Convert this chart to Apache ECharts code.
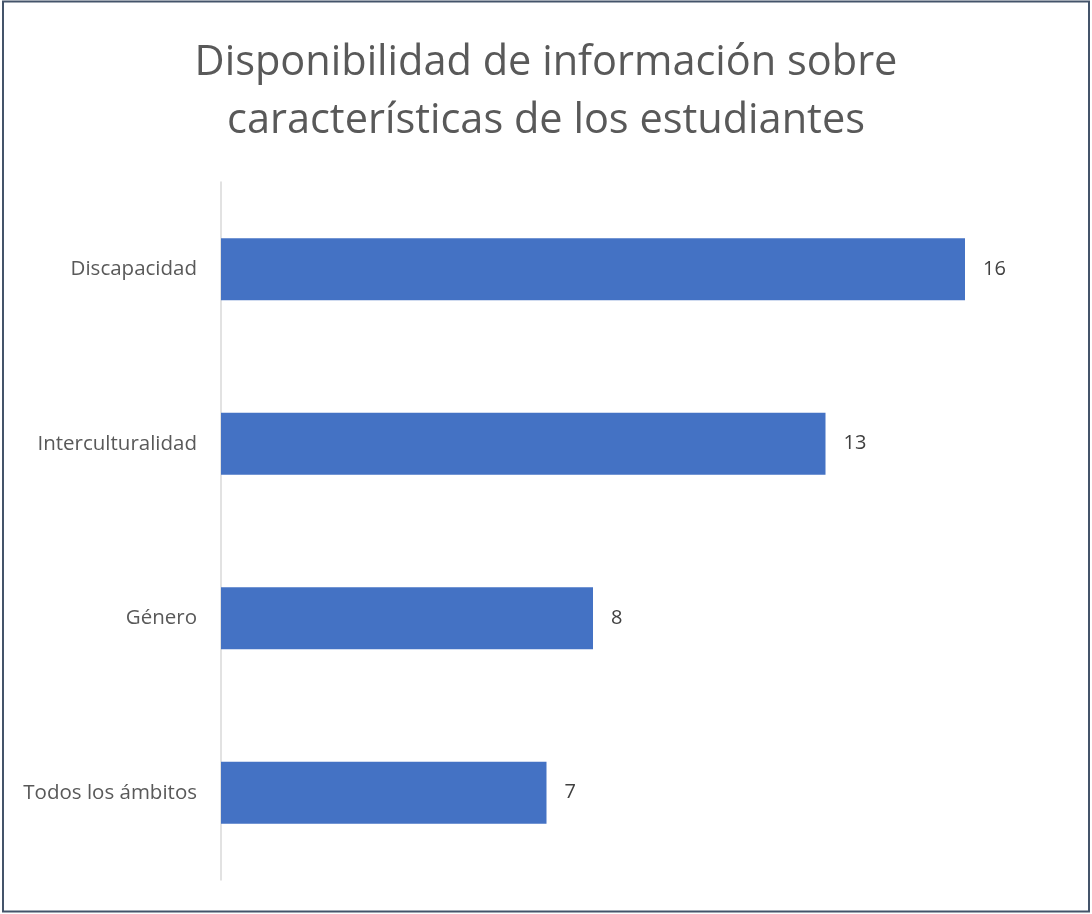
<!DOCTYPE html>
<html>
<head>
<meta charset="utf-8">
<script src="https://cdn.jsdelivr.net/npm/echarts@6/dist/echarts.min.js"></script>
<style>
html,body{margin:0;padding:0;background:#fff;}
#chart{width:1092px;height:914px;}
</style>
</head>
<body>
<div id="chart"></div>
<script>
const categories = ['Discapacidad', 'Interculturalidad', 'Género', 'Todos los ámbitos'];
const values = [16, 13, 8, 7];
const titleText = 'Disponibilidad de información sobre\ncaracterísticas de los estudiantes';

const chart = echarts.init(document.getElementById('chart'));
const FONT = '"Open Sans", "Noto Sans", sans-serif';
chart.setOption({
  animation: false,
  backgroundColor: '#ffffff',
  title: {
    text: titleText,
    left: 'center',
    top: 29,
    textStyle: {
      fontFamily: FONT,
      fontSize: 41.5,
      fontWeight: 'normal',
      color: '#595959',
      lineHeight: 58
    }
  },
  graphic: [{
    type: 'rect',
    shape: {x: 3, y: 1.5, width: 1086, height: 910},
    style: {fill: 'none', stroke: '#44546a', lineWidth: 2},
    silent: true
  }],
  grid: {left: 221, top: 182, width: 837, height: 698, containLabel: false},
  xAxis: {
    type: 'value',
    min: 0,
    max: 18,
    show: false,
    splitLine: {show: false}
  },
  yAxis: {
    type: 'category',
    data: categories,
    inverse: true,
    axisLine: {show: true, lineStyle: {color: '#d9d9d9', width: 1.5}},
    axisTick: {show: false},
    axisLabel: {
      margin: 24,
      fontFamily: FONT,
      fontSize: 20.5,
      color: '#595959'
    }
  },
  series: [{
    type: 'bar',
    data: values,
    barWidth: 62,
    itemStyle: {color: '#4472c4'},
    label: {
      show: true,
      position: 'right',
      distance: 18,
      fontFamily: FONT,
      fontSize: 20,
      color: '#404040'
    }
  }]
});
</script>
</body>
</html>
